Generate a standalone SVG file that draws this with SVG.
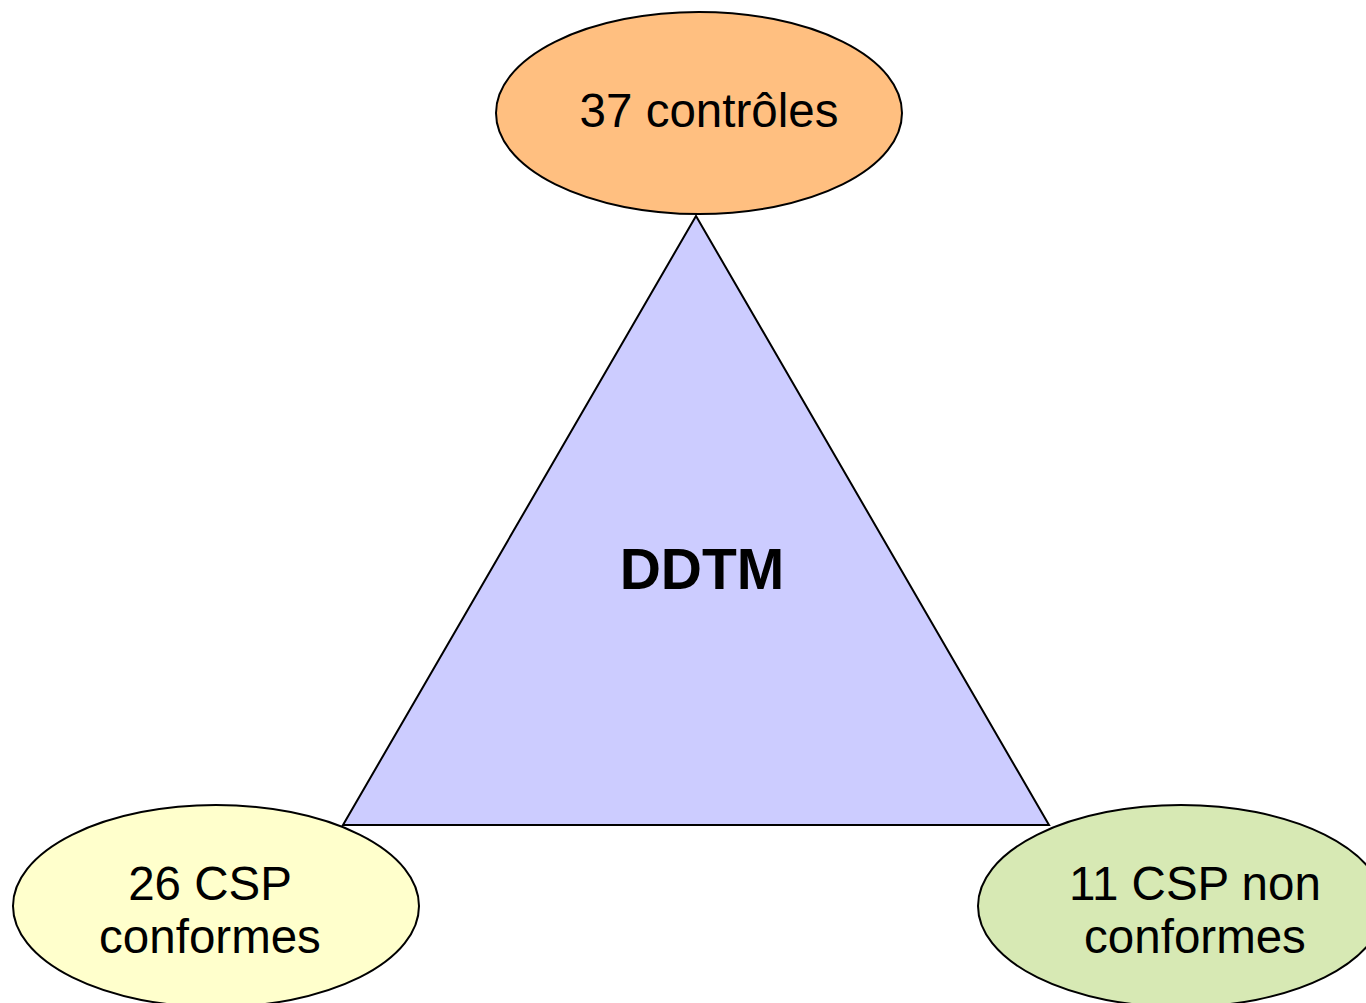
<svg xmlns="http://www.w3.org/2000/svg" width="1366" height="1003" viewBox="0 0 1366 1003">
<style>
.s{stroke:#000;stroke-width:2}
.t{font-family:"Liberation Sans",Arial,sans-serif;font-size:47.5px;fill:#000;text-anchor:middle}
.b{font-family:"Liberation Sans",Arial,sans-serif;font-size:57px;font-weight:bold;fill:#000;text-anchor:middle}
</style>
<rect width="1366" height="1003" fill="#fff"/>
<g id="triangle">
<polygon class="s" points="696,216 343,825 1049,825" fill="#ccccff"/>
<text class="b" x="702" y="589">DDTM</text>
</g>
<g id="controles">
<ellipse class="s" cx="699" cy="113" rx="203" ry="101" fill="#ffbf80"/>
<text class="t" x="709" y="127">37 contrôles</text>
</g>
<g id="conformes">
<ellipse class="s" cx="216" cy="906" rx="203" ry="101" fill="#ffffcc"/>
<text class="t" x="210" y="900">26 CSP</text>
<text class="t" x="210" y="953">conformes</text>
</g>
<g id="nonconformes">
<ellipse class="s" cx="1181" cy="906" rx="203" ry="101" fill="#d7e9b4"/>
<text class="t" x="1195" y="900">11 CSP non</text>
<text class="t" x="1195" y="953">conformes</text>
</g>
<g id="connectors"></g>
</svg>
